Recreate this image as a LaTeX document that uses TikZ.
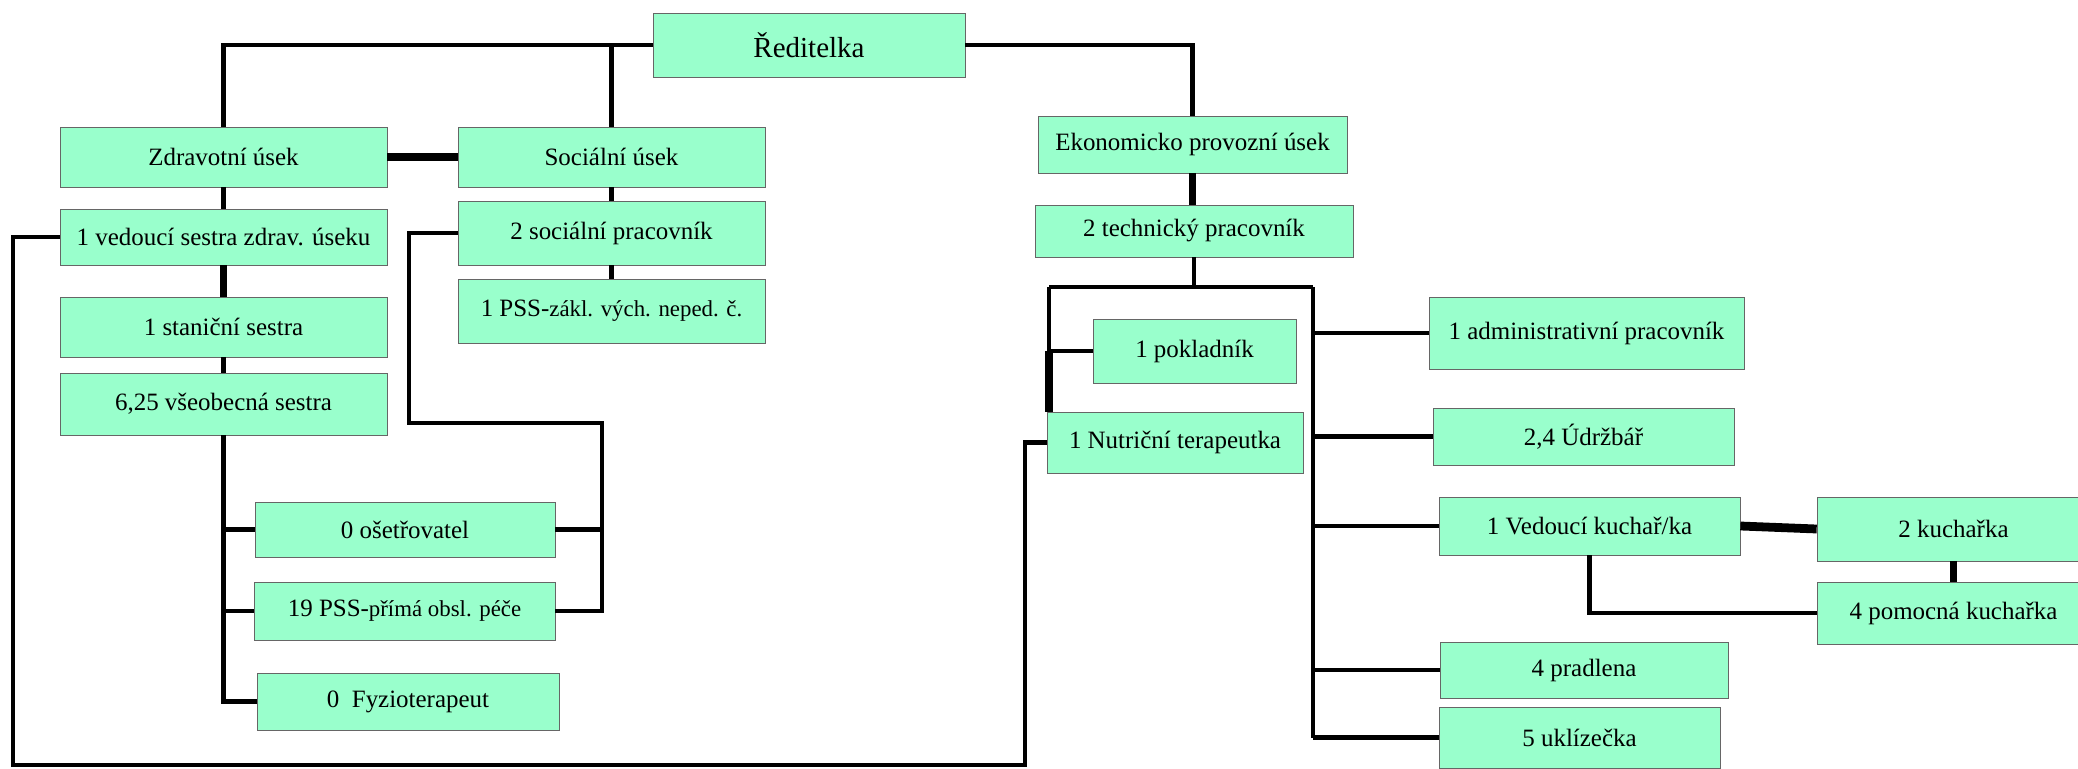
\documentclass[tikz,border=0pt]{standalone}
\usepackage{fontspec}
\setmainfont{Liberation Serif}
\definecolor{mint}{HTML}{99FFCC}
\tikzset{
	box/.style n args={2}{draw=black!60,fill=mint,minimum width=#1*0.2mm,minimum height=#2*0.2mm,inner sep=0pt,font=\fontsize{14.2}{16}\selectfont},
	link/.style={line width=2.8pt},
	heavy/.style={line width=4pt},
}
\newcommand{\smalltxt}[1]{{\fontsize{13}{15}\selectfont #1}}
\begin{document}
\begin{tikzpicture}[x=0.2mm,y=-0.2mm]
			\useasboundingbox (0,0) rectangle (2078,769);
			\clip (0,0) rectangle (2078,769);
			\node[box={312}{64},font=\fontsize{16.5}{19}\selectfont] (reditel) at (809,45) {Ředitelka};
			\node[box={327}{60}] (zdrav) at (223.5,157) {Zdravotní úsek};
			\node[box={307}{60}] (social) at (611.5,157) {Sociální úsek};
			\node[box={327}{56}] (vedsestra) at (223.5,237) {1 vedoucí sestra zdrav. úseku};
			\node[box={307}{64}] (socprac) at (611.5,233) {2 sociální pracovník};
			\node[box={327}{60}] (stanic) at (223.5,327) {1 staniční sestra};
			\node[box={307}{64}] (psszakl) at (611.5,311) {1 PSS-\smalltxt{zákl. vých. neped. č.}};
			\node[box={327}{62}] (vseob) at (223.5,404) {6,25 všeobecná sestra};
			\node[box={300}{55}] (osetr) at (405,529.5) {0 ošetřovatel};
			\node[box={301}{58}] (pssprima) at (404.5,611) {19 PSS-\smalltxt{přímá obsl. péče}};
			\node[box={302}{57}] (fyzio) at (408,701.5) {0\ \ Fyzioterapeut};
			\node[box={309}{57}] (ekon) at (1192.5,144.5) {Ekonomicko provozní úsek};
			\node[box={318}{52}] (techn) at (1194,231) {2 technický pracovník};
			\node[box={203}{64}] (pokl) at (1194.5,351) {1 pokladník};
			\node[box={256}{61}] (nutri) at (1175,442.5) {1 Nutriční terapeutka};
			\node[box={315}{72}] (admin) at (1586.5,333) {1 administrativní pracovník};
			\node[box={301}{57}] (udrz) at (1583.5,436.5) {2,4 Údržbář};
			\node[box={301}{58}] (vedkuch) at (1589.5,526) {1 Vedoucí kuchař/ka};
			\node[box={273}{64}] (kuch) at (1953.5,529) {2 kuchařka};
			\node[box={273}{62}] (pomkuch) at (1953.5,613) {4 pomocná kuchařka};
			\node[box={288}{56}] (pradl) at (1584,670) {4 pradlena};
			\node[box={281}{61}] (ukliz) at (1579.5,737.5) {5 uklízečka};
			\coordinate (socA) at (409,423);
			\coordinate (socB) at (602,423);
			\coordinate (loopA) at (13,765);
			\coordinate (loopB) at (1025,765);
			\coordinate (ekL) at (1049,287);
			\coordinate (ekR) at (1313,287);
			\draw[link] (reditel.west) -| (zdrav.north);
			\draw[link] (social.north) -- (social.north |- reditel.west);
			\draw[link] (reditel.east) -| (ekon.north);
			\draw[heavy] (zdrav.east) -- (social.west);
			\draw[link] (zdrav.south) -- (vedsestra.north);
			\draw[heavy] (vedsestra.south) -- (stanic.north);
			\draw[link] (stanic.south) -- (vseob.north);
			\draw[link] (social.south) -- (socprac.north);
			\draw[link] (socprac.south) -- (psszakl.north);
			\draw[link] (vseob.south) |- (fyzio.west);
			\draw[link] (vseob.south |- osetr.west) -- (osetr.west);
			\draw[link] (vseob.south |- pssprima.west) -- (pssprima.west);
			\draw[link] (socprac.west) -| (socA) -- (socB) |- (pssprima.east);
			\draw[link] (socB |- osetr.east) -- (osetr.east);
			\draw[link] (vedsestra.west) -| (loopA) -- (loopB) |- (nutri.west);
			\draw[heavy] (ekon.south) -- (ekon.south |- techn.north);
			\draw[link] (techn.south) -- (techn.south |- ekL);
			\draw[link] (ekL) -- (ekR);
			\draw[link] (ekL) -- (ekL |- pokl.west) -- (pokl.west);
			\draw[heavy] (ekL |- pokl.west) -- (ekL |- nutri.north);
			\draw[link] (ekR) -- (ekR |- ukliz.west);
			\draw[link] (ekR |- admin.west) -- (admin.west);
			\draw[link] (ekR |- udrz.west) -- (udrz.west);
			\draw[link] (ekR |- vedkuch.west) -- (vedkuch.west);
			\draw[link] (ekR |- pradl.west) -- (pradl.west);
			\draw[link] (ekR |- ukliz.west) -- (ukliz.west);
			\draw[line width=5pt] (vedkuch.east) -- (kuch.west);
			\draw[heavy] (kuch.south) -- (pomkuch.north);
			\draw[link] (vedkuch.south) |- (pomkuch.west);
\end{tikzpicture}
\end{document}
